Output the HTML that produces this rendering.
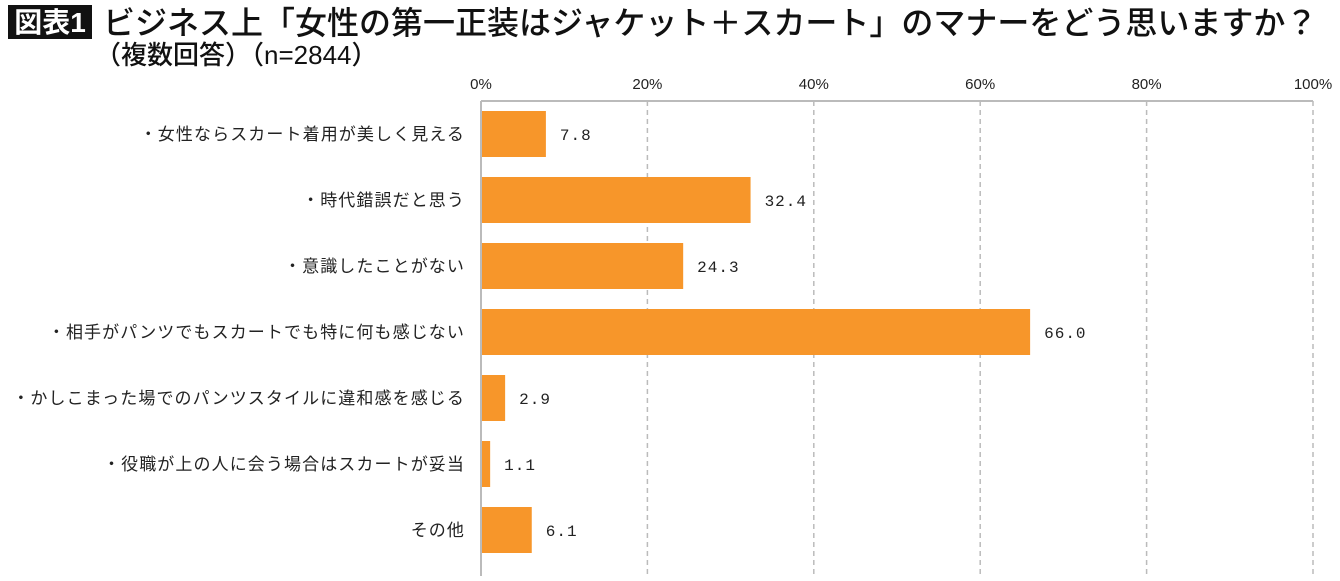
<!DOCTYPE html>
<html><head><meta charset="utf-8"><style>
body{margin:0;width:1340px;height:576px;background:#fff;overflow:hidden;font-family:"Liberation Sans","Noto Sans CJK JP",sans-serif;}
</style></head><body>
<svg width="1340" height="576" xmlns="http://www.w3.org/2000/svg">
<rect x="8" y="5" width="84" height="34" fill="#111"/>
<text x="50" y="32" font-size="28" font-weight="bold" fill="#fff" text-anchor="middle" font-family="Liberation Sans,Noto Sans CJK JP,sans-serif">図表1</text>
<text x="103" y="34" font-size="32" font-weight="500" fill="#111" font-family="Liberation Sans,Noto Sans CJK JP,sans-serif">ビジネス上「女性の第一正装はジャケット＋スカート」のマナーをどう思いますか？</text>
<text x="95" y="64" font-size="26" font-weight="500" fill="#111" font-family="Liberation Sans,Noto Sans CJK JP,sans-serif">（複数回答）（n=2844）</text>
<g id="plot"></g>
</svg>
<script>
const categories=["・女性ならスカート着用が美しく見える","・時代錯誤だと思う","・意識したことがない","・相手がパンツでもスカートでも特に何も感じない","・かしこまった場でのパンツスタイルに違和感を感じる","・役職が上の人に会う場合はスカートが妥当","その他"];
const values=[7.8,32.4,24.3,66.0,2.9,1.1,6.1];
const valueLabels=["7.8","32.4","24.3","66.0","2.9","1.1","6.1"];
const ticks=[0,20,40,60,80,100];
const tickLabels=["0%","20%","40%","60%","80%","100%"];
const NS="http://www.w3.org/2000/svg";
const g=document.getElementById("plot");
const x0=481,x1=1313,yTop=101,step=66,barH=46;
const xs=v=>x0+(x1-x0)*v/100;
const yc=i=>yTop+33+i*step;
function mk(t,a){const e=document.createElementNS(NS,t);for(const k in a)e.setAttribute(k,a[k]);g.appendChild(e);return e;}
ticks.forEach((t,i)=>{
 if(i>0){const l=mk("line",{x1:xs(t),x2:xs(t),y1:yTop,y2:576,stroke:"#bbb","stroke-width":1.5,"stroke-dasharray":"5,4"});
 
 }
 const tx=mk("text",{x:xs(t),y:89,"font-size":15,fill:"#222","text-anchor":"middle","font-family":"Liberation Sans Narrow,Liberation Sans,sans-serif"});
 tx.textContent=tickLabels[i];
 
 
});
const ax=mk("line",{x1:x0,x2:x1,y1:yTop,y2:yTop,stroke:"#bbb","stroke-width":2});


const ay=mk("line",{x1:x0,x2:x0,y1:yTop,y2:576,stroke:"#bbb","stroke-width":2});


categories.forEach((c,i)=>{
 const r=mk("rect",{x:x0+1,y:yc(i)-barH/2,width:xs(values[i])-x0-1,height:barH,fill:"#f7962a"});
 
 
 const v=mk("text",{x:xs(values[i])+14,y:yc(i)+6,"font-size":16,fill:"#222","font-family":"Liberation Mono,monospace","letter-spacing":"1"});
 v.textContent=valueLabels[i];
 
 
 const lb=mk("text",{x:465,y:yc(i)+6,"font-size":17,fill:"#222","text-anchor":"end","font-family":"Liberation Sans,Noto Sans CJK JP,sans-serif","letter-spacing":"1.1"});
 lb.textContent=c;
 
 
});
</script>
</body></html>
